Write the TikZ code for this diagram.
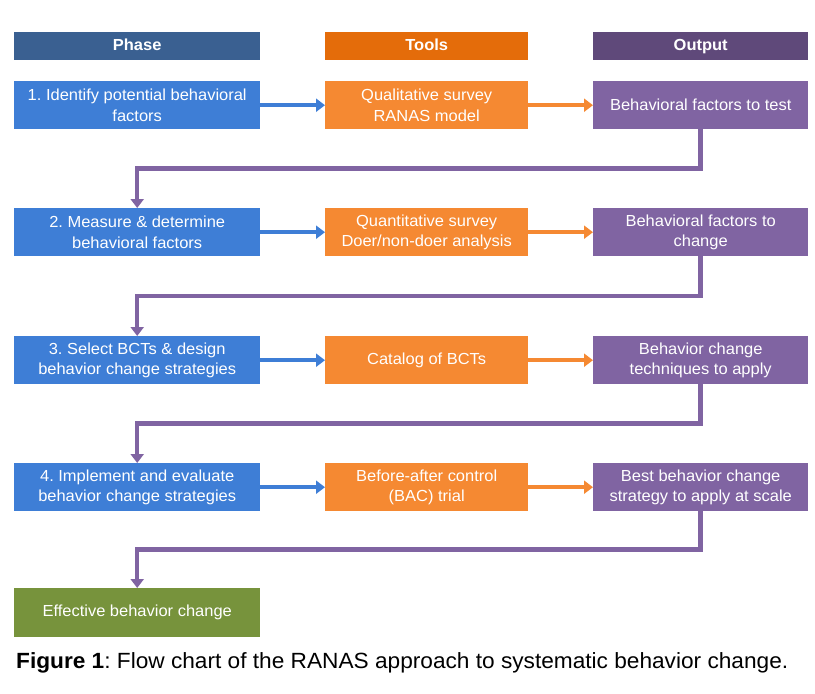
\documentclass[tikz,border=0pt]{standalone}
\usepackage{fontspec}
\setmainfont[FakeStretch=1.03]{Liberation Sans}
\usetikzlibrary{arrows.meta,calc}
\definecolor{hblue}{RGB}{58,96,145}
\definecolor{horange}{RGB}{228,108,10}
\definecolor{hpurple}{RGB}{95,73,122}
\definecolor{cblue}{RGB}{62,126,214}
\definecolor{corange}{RGB}{245,137,50}
\definecolor{cpurple}{RGB}{128,100,162}
\definecolor{cgreen}{RGB}{119,147,60}
\frenchspacing
\tikzset{
  x=1pt,y=-1pt,
  cell/.style={anchor=north west,inner sep=0pt,text=white,align=center,
    font=\fontsize{16}{20.5}\selectfont},
  head/.style={cell,minimum height=28pt,text height=11.5pt,text depth=3.5pt,
    font=\fontsize{16}{18}\selectfont\bfseries},
  colA/.style={minimum width=246pt},
  colB/.style={minimum width=203pt},
  colC/.style={minimum width=215pt},
  row/.style={minimum height=48pt},
  harrow/.style={line width=4.5pt,-{Triangle[length=9pt,width=13pt]}},
  conn/.style={draw=cpurple,line width=4.5pt,-{Triangle[length=9pt,width=13pt]}},
}
\begin{document}
\begin{tikzpicture}
\useasboundingbox (0,0) rectangle (815,694);
% headers
\node[head,colA,fill=hblue] (hA) at (14,32) {Phase};
\node[head,colB,fill=horange] (hB) at (325,32) {Tools};
\node[head,colC,fill=hpurple] (hC) at (593,32) {Output};
% row 1
\node[cell,colA,row,fill=cblue] (b1) at (14,81) {1. Identify potential behavioral\\factors};
\node[cell,colB,row,fill=corange] (t1) at (325,81) {Qualitative survey\\RANAS model};
\node[cell,colC,row,fill=cpurple] (o1) at (593,81) {Behavioral factors to test};
% row 2
\node[cell,colA,row,fill=cblue] (b2) at (14,208) {2. Measure \& determine\\behavioral factors};
\node[cell,colB,row,fill=corange] (t2) at (325,208) {Quantitative survey\\Doer/non-doer analysis};
\node[cell,colC,row,fill=cpurple] (o2) at (593,208) {Behavioral factors to\\change};
% row 3
\node[cell,colA,row,fill=cblue] (b3) at (14,336) {3. Select BCTs \& design\\behavior change strategies};
\node[cell,colB,row,fill=corange] (t3) at (325,336) {Catalog of BCTs};
\node[cell,colC,row,fill=cpurple] (o3) at (593,336) {Behavior change\\techniques to apply};
% row 4
\node[cell,colA,row,fill=cblue] (b4) at (14,463) {4. Implement and evaluate\\behavior change strategies};
\node[cell,colB,row,fill=corange] (t4) at (325,463) {Before-after control\\(BAC) trial};
\node[cell,colC,row,fill=cpurple] (o4) at (593,463) {Best behavior change\\strategy to apply at scale};
% final
\node[cell,colA,minimum height=49pt,fill=cgreen] (g) at (14,588) {Effective behavior change};
% horizontal arrows
\foreach \i in {1,2,3,4}{
  \draw[harrow,draw=cblue] (b\i.east) -- (t\i.west);
  \draw[harrow,draw=corange] (t\i.east) -- (o\i.west);
}
% connectors
\draw[conn] (o1.south) |- ($(o1.south)!.5!(b2.north)$) -| (b2.north);
\draw[conn] (o2.south) |- ($(o2.south)!.5!(b3.north)$) -| (b3.north);
\draw[conn] (o3.south) |- ($(o3.south)!.5!(b4.north)$) -| (b4.north);
\draw[conn] (o4.south) |- ($(o4.south)!.5!(g.north)$) -| (g.north);
% caption
\node[anchor=base west,inner sep=0pt,font=\fontsize{22}{24}\selectfont] (cap) at (16,668)
  {\textbf{Figure 1}: Flow chart of the RANAS approach to systematic behavior change.};
\end{tikzpicture}
\end{document}
